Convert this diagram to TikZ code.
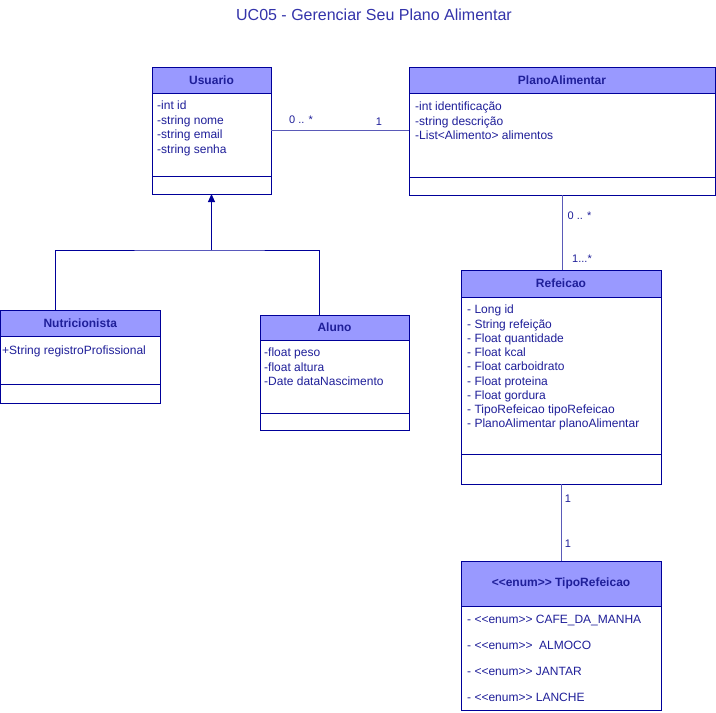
\documentclass[tikz,border=0pt]{standalone}
\usepackage{fontspec}
\setmainfont{Liberation Sans}
\usetikzlibrary{positioning,arrows.meta}

\definecolor{umlline}{HTML}{000099}
\definecolor{umlhead}{HTML}{9999FF}
\definecolor{umltext}{HTML}{1F1F99}
\definecolor{titletext}{HTML}{3333AA}
\definecolor{assocline}{HTML}{5A5AB8}
\newcommand{\umlstereo}[1]{<\kern0pt<#1>\kern0pt>}

\begin{document}
\begin{tikzpicture}[x=1pt,y=-1pt,
    classhead/.style={draw=umlline, fill=umlhead, text=umltext, inner sep=0pt,
        outer sep=0pt, line width=1pt, font=\fontsize{12}{14.4}\selectfont\bfseries},
    classpart/.style={draw=umlline, fill=white, inner sep=0pt, outer sep=0pt,
        line width=1pt},
    attrs/.style={anchor=north west, align=left, inner sep=0pt, text=umltext,
        font=\fontsize{12}{14.4}\selectfont},
    mult/.style={text=umltext, inner sep=0pt, font=\fontsize{11}{13}\selectfont},
    assoc/.style={draw=assocline, line width=1pt},
    inherit/.style={draw=umlline, line width=1pt},
]
    \fill[white] (0,0) rectangle (716,713);
    \useasboundingbox (0,0) rectangle (716,713);

    % title
    \node[text=titletext, font=\fontsize{16}{19}\selectfont] (title) at (374,15)
        {UC05 - Gerenciar Seu Plano Alimentar};

    % Usuario
    \node [classhead,
        minimum width=119,
        minimum height=26,
    ] (usuario) at (211.5,80) {Usuario};
    \node [classpart, minimum width=119, minimum height=83,
        below=0pt of usuario] (usuarioattr) {};
    \node [classpart, minimum width=119, minimum height=18,
        below=0pt of usuarioattr] (usuariometh) {};
    \node [attrs] (usuariotxt) at (157,101)
        {-int id\\-string nome\\-string email\\-string senha};

    % PlanoAlimentar
    \node [classhead,
        minimum width=306,
        minimum height=26,
    ] (plano) at (562,80) {PlanoAlimentar};
    \node [classpart, minimum width=306, minimum height=84,
        below=0pt of plano] (planoattr) {};
    \node [classpart, minimum width=306, minimum height=18,
        below=0pt of planoattr] (planometh) {};
    \node [attrs] (planotxt) at (415,102)
        {-int identificação\\-string descrição\\-List<Alimento> alimentos};

    % Nutricionista
    \node [classhead,
        minimum width=159.5,
        minimum height=26,
    ] (nutri) at (80.25,323) {Nutricionista};
    \node [classpart, minimum width=159.5, minimum height=48,
        below=0pt of nutri] (nutriattr) {};
    \node [classpart, minimum width=159.5, minimum height=19,
        below=0pt of nutriattr] (nutrimeth) {};
    \node [attrs] (nutritxt) at (2,346) {+String registroProfissional};

    % Aluno
    \node [classhead,
        minimum width=149,
        minimum height=25,
    ] (aluno) at (334.5,327.5) {Aluno};
    \node [classpart, minimum width=149, minimum height=73,
        below=0pt of aluno] (alunoattr) {};
    \node [classpart, minimum width=149, minimum height=17,
        below=0pt of alunoattr] (alunometh) {};
    \node [attrs] (alunotxt) at (264,348)
        {-float peso\\-float altura\\-Date dataNascimento};

    % Refeicao
    \node [classhead,
        minimum width=200,
        minimum height=27,
    ] (refeicao) at (561,283.5) {Refeicao};
    \node [classpart, minimum width=200, minimum height=157,
        below=0pt of refeicao] (refeicaoattr) {};
    \node [classpart, minimum width=200, minimum height=30,
        below=0pt of refeicaoattr] (refeicaometh) {};
    \node [attrs, font=\fontsize{12}{14.25}\selectfont] (refeicaotxt) at (467,305)
        {- Long id\\- String refeição\\- Float quantidade\\- Float kcal\\
         - Float carboidrato\\- Float proteina\\- Float gordura\\
         - TipoRefeicao tipoRefeicao\\- PlanoAlimentar planoAlimentar};

    % TipoRefeicao
    \node [classhead,
        minimum width=200,
        minimum height=45,
    ] (tipo) at (561,583.5) {\umlstereo{enum} TipoRefeicao};
    \node [classpart, minimum width=200, minimum height=104,
        below=0pt of tipo] (tipoattr) {};
    \node [attrs, font=\fontsize{12}{26}\selectfont] (tipotxt) at (467,615)
        {- \umlstereo{enum} CAFE\_DA\_MANHA\\- \umlstereo{enum}\ \ ALMOCO\\
         - \umlstereo{enum} JANTAR\\- \umlstereo{enum} LANCHE};

    % associations
    \draw[assoc] ([yshift=4.5pt]usuarioattr.east)
        -- ([yshift=4.5pt]usuarioattr.east -| planoattr.west);
    \node[mult] (m1) at (301,120) {0 .. *};
    \node[mult] (m2) at (379,122) {1};

    \draw[assoc] (planometh.south) -- (planometh.south |- refeicao.north);
    \node[mult] (m3) at (579.5,216) {0 .. *};
    \node[mult] (m4) at (582,259) {1...*};

    \draw[assoc] (refeicaometh.south) -- (tipo.north);
    \node[mult] (m5) at (568,499) {1};
    \node[mult] (m6) at (568,544) {1};

    % inheritance
    \coordinate (split) at (211.5,250);
    \draw[inherit] ([xshift=-25pt]nutri.north) |- (split)
        -| ([xshift=-15.5pt]aluno.north);
    \draw[inherit, -{Triangle[length=8pt,width=7pt]}] (split) -- (usuariometh.south);
\end{tikzpicture}
\end{document}
